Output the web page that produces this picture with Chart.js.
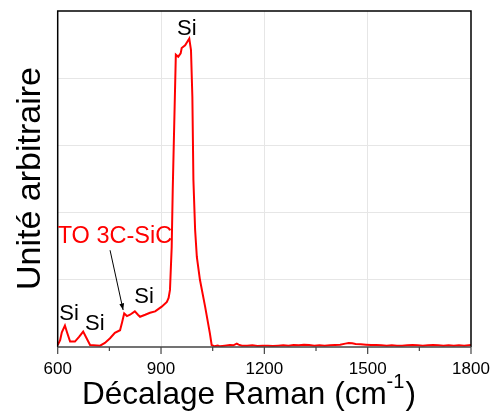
<!DOCTYPE html>
<html>
<head>
<meta charset="utf-8">
<script src="https://cdn.jsdelivr.net/npm/chart.js@4.4.1/dist/chart.umd.min.js"></script>
<style>
    body { margin: 0; background: #fff; }
    #grafico { display: block; }
</style>
</head>
<body>
<canvas id="grafico" width="493" height="412"></canvas>
<script>
// spectre raman : decalage (cm-1) et intensite (u.a.)
const decalage = [
    600, 607, 612, 621, 627, 636, 650, 662, 674, 682, 694, 723, 737, 752, 766, 781, 787, 793,
    801, 810, 824, 833, 839, 854, 868, 883, 902, 917, 922, 926, 931, 934, 943, 950, 957, 960,
    970, 982, 987, 991, 994, 999, 1004, 1013, 1028, 1042, 1047, 1055, 1065, 1071,
    1085, 1100, 1110, 1120, 1125, 1135, 1150, 1165, 1180, 1195, 1210, 1225, 1240, 1255, 1270,
    1285, 1300, 1315, 1330, 1345, 1360, 1375, 1390, 1405, 1420, 1435, 1445, 1455, 1465, 1480,
    1495, 1510, 1525, 1540, 1555, 1570, 1585, 1600, 1615, 1630, 1645, 1660, 1675, 1690, 1705,
    1720, 1735, 1750, 1765, 1780, 1800
];
const intensite = [
    0.03, 0.10, 0.22, 0.32, 0.22, 0.08, 0.08, 0.15, 0.23, 0.15, 0.03, 0.02, 0.06, 0.13, 0.21, 0.25, 0.37, 0.50,
    0.46, 0.48, 0.53, 0.48, 0.45, 0.48, 0.51, 0.53, 0.60, 0.67, 0.73, 0.85, 1.49, 2.34, 4.35, 4.32, 4.37, 4.45,
    4.49, 4.59, 4.42, 3.72, 2.49, 1.74, 1.34, 1.00, 0.60, 0.20, 0.03, 0.01, 0.02, 0.01,
    0.02, 0.03, 0.025, 0.05, 0.035, 0.02, 0.02, 0.025, 0.015, 0.02, 0.02, 0.015, 0.02, 0.025, 0.02,
    0.03, 0.025, 0.035, 0.03, 0.02, 0.025, 0.02, 0.025, 0.03, 0.035, 0.05, 0.06, 0.055, 0.045, 0.04,
    0.035, 0.03, 0.03, 0.025, 0.02, 0.025, 0.02, 0.02, 0.025, 0.03, 0.025, 0.02, 0.025, 0.03, 0.025,
    0.02, 0.025, 0.02, 0.025, 0.02, 0.03
];

// graduations de l'axe x
const graduationsMajeures = [600, 900, 1200, 1500, 1800];
const graduationsMineures = [750, 1050, 1350, 1650];

// etiquettes des pics (coordonnees en unites des donnees)
const etiquettesTexte = ["Si", "Si", "Si", "Si", "TO 3C-SiC"];
const etiquettesX = [633, 708, 851, 975, 766];
const etiquettesY = [0.49, 0.34, 0.74, 4.73, 1.64];
const etiquettesCouleur = ["#000", "#000", "#000", "#000", "#ff0000"];

// fleche vers le pic TO
const flecheDe = [752, 1.44];
const flecheVers = [790, 0.55];

const POLICE = "'Liberation Sans', Arial, sans-serif";

const decorations = {
    id: "decorations",
    afterDraw(chart) {
        const { ctx, chartArea: a, scales: { x, y } } = chart;
        ctx.save();

        // cadre
        ctx.strokeStyle = "#000";
        ctx.lineWidth = 1.5;
        ctx.beginPath();
        ctx.moveTo(a.left, a.bottom);
        ctx.lineTo(a.left, a.top);
        ctx.lineTo(a.right, a.top);
        ctx.lineTo(a.right, a.bottom);
        ctx.stroke();
        ctx.strokeStyle = "#444";
        ctx.beginPath();
        ctx.moveTo(a.left, a.bottom);
        ctx.lineTo(a.right, a.bottom);
        ctx.stroke();

        // traits de graduation
        ctx.lineWidth = 1.2;
        graduationsMajeures.forEach(v => {
            const px = x.getPixelForValue(v);
            ctx.beginPath();
            ctx.moveTo(px, a.bottom);
            ctx.lineTo(px, a.bottom + 7);
            ctx.stroke();
        });
        graduationsMineures.forEach(v => {
            const px = x.getPixelForValue(v);
            ctx.beginPath();
            ctx.moveTo(px, a.bottom);
            ctx.lineTo(px, a.bottom + 4);
            ctx.stroke();
        });

        // etiquettes des pics
        ctx.textAlign = "center";
        ctx.textBaseline = "middle";
        etiquettesTexte.forEach((txt, i) => {
            ctx.fillStyle = etiquettesCouleur[i];
            ctx.font = (i === 4 ? "23.5px " : "22px ") + POLICE;
            ctx.fillText(txt, x.getPixelForValue(etiquettesX[i]), y.getPixelForValue(etiquettesY[i]));
        });

        // fleche
        const x0 = x.getPixelForValue(flecheDe[0]), y0 = y.getPixelForValue(flecheDe[1]);
        const x1 = x.getPixelForValue(flecheVers[0]), y1 = y.getPixelForValue(flecheVers[1]);
        const ang = Math.atan2(y1 - y0, x1 - x0);
        ctx.strokeStyle = "#000";
        ctx.fillStyle = "#000";
        ctx.lineWidth = 1;
        ctx.beginPath();
        ctx.moveTo(x0, y0);
        ctx.lineTo(x1, y1);
        ctx.stroke();
        ctx.beginPath();
        ctx.moveTo(x1, y1);
        ctx.lineTo(x1 - 7 * Math.cos(ang - 0.35), y1 - 7 * Math.sin(ang - 0.35));
        ctx.lineTo(x1 - 7 * Math.cos(ang + 0.35), y1 - 7 * Math.sin(ang + 0.35));
        ctx.closePath();
        ctx.fill();

        // titre axe x avec exposant
        ctx.fillStyle = "#000";
        ctx.textAlign = "left";
        ctx.textBaseline = "alphabetic";
        const base = "Décalage Raman (cm";
        ctx.font = "31.5px " + POLICE;
        let px = 82;
        ctx.fillText(base, px, 404);
        px += ctx.measureText(base).width;
        ctx.font = "20px " + POLICE;
        ctx.fillText("-1", px, 388);
        px += ctx.measureText("-1").width + 1;
        ctx.font = "31.5px " + POLICE;
        ctx.fillText(")", px, 404);

        // titre axe y
        ctx.translate(39.5, 178.5);
        ctx.rotate(-Math.PI / 2);
        ctx.textAlign = "center";
        ctx.font = "34px " + POLICE;
        ctx.fillText("Unité arbitraire", 0, 0);

        ctx.restore();
    }
};

new Chart(document.getElementById("grafico").getContext("2d"), {
    type: "line",
    data: {
        datasets: [{
            data: decalage.map((d, i) => ({ x: d, y: intensite[i] })),
            borderColor: "#ff0000",
            borderWidth: 2,
            pointRadius: 0,
            tension: 0,
            fill: false,
        }],
    },
    options: {
        responsive: false,
        devicePixelRatio: 1,
        animation: false,
        events: [],
        layout: { padding: { top: 11, right: 22, left: 0, bottom: 0 } },
        plugins: { legend: { display: false }, tooltip: { enabled: false } },
        scales: {
            x: {
                type: "linear",
                min: 600,
                max: 1800,
                afterBuildTicks: s => { s.ticks = graduationsMajeures.map(v => ({ value: v })); },
                afterFit: s => { s.height = 65; s.paddingLeft = 0; s.paddingRight = 0; },
                ticks: {
                    color: "#000",
                    font: { family: POLICE, size: 17 },
                    padding: 12,
                    maxRotation: 0,
                    callback: v => String(v),
                },
                grid: {
                    drawTicks: false,
                    color: c => (c.tick && c.tick.value > 600 && c.tick.value < 1800) ? "#e6e6e6" : "rgba(0,0,0,0)",
                },
                border: { display: false },
            },
            y: {
                min: 0,
                max: 5,
                afterFit: s => { s.width = 57.7; },
                ticks: { display: false, stepSize: 1 },
                grid: {
                    drawTicks: false,
                    color: c => (c.tick && c.tick.value > 0 && c.tick.value < 5) ? "#e6e6e6" : "rgba(0,0,0,0)",
                },
                border: { display: false },
            },
        },
    },
    plugins: [decorations],
});
</script>
</body>
</html>
